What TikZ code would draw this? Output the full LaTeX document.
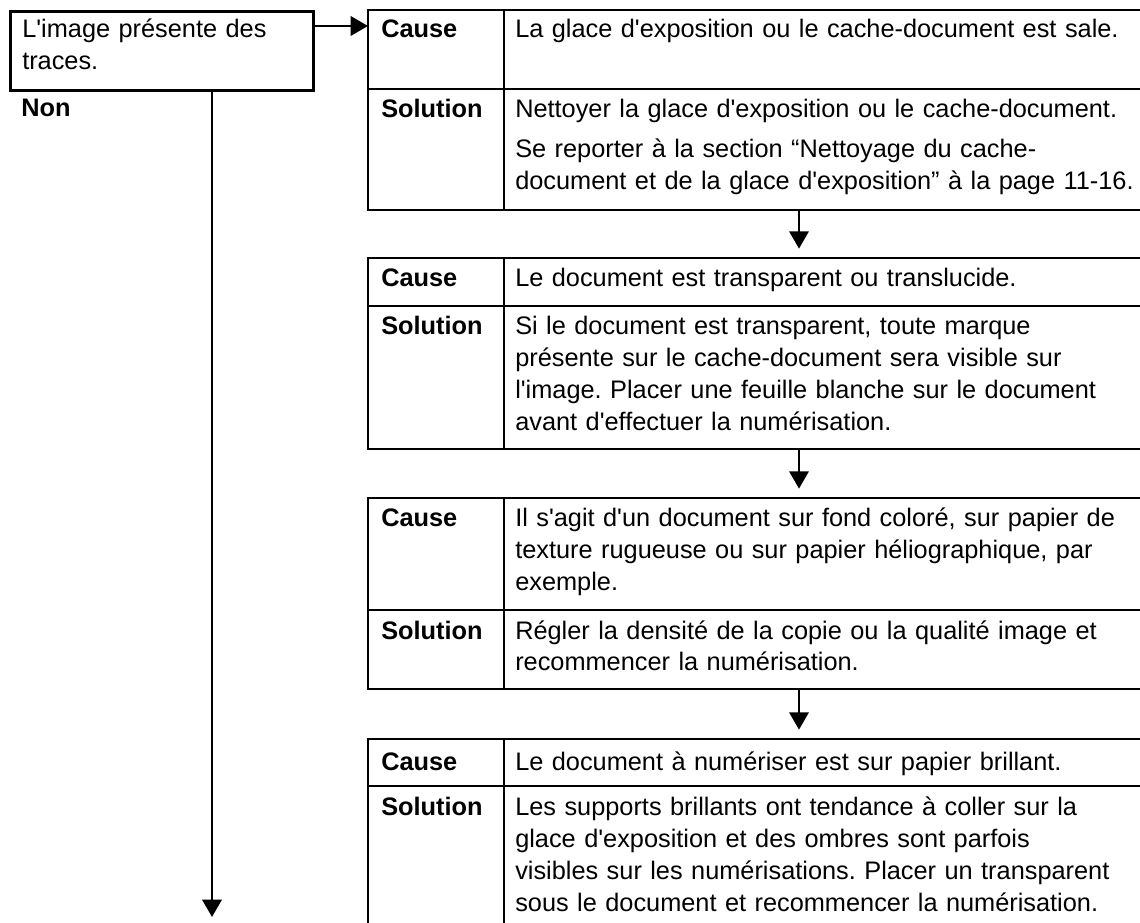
\documentclass[tikz,border=0pt]{standalone}
\usepackage{fontspec}
\setmainfont{Liberation Sans}[Ligatures=TeXOff]
\usetikzlibrary{arrows.meta}
\frenchspacing
\begin{document}
\begin{tikzpicture}[x=0.75pt,y=-0.75pt,
  font=\fontsize{19pt}{24pt}\selectfont\frenchspacing,
  frame/.style={line width=1.9pt},
  arr/.style={line width=1.8pt,-{Triangle[length=13pt,width=14.5pt]}},
  cell/.style={anchor=base west,inner sep=0pt,align=left,text width=540pt},
  lab/.style={anchor=base west,inner sep=0pt,font=\fontsize{19pt}{24pt}\selectfont\bfseries},
]
\useasboundingbox (0,0) rectangle (1140,923);

% question box
\node[draw,frame,anchor=north west,inner xsep=9pt,inner ysep=5.625pt,
      minimum width=227.25pt,text width=209.25pt,align=left,
      text height=14.25pt,text depth=33.75pt] (q) at (9,10)
      {L'image présente des\\traces.};
\node[lab] (non) at (21,117) {Non};

% table 1
\draw[frame] (1140,10) -- (368,10) -- (368,210) -- (1140,210);
\draw[frame] (368,89) -- (1140,89);
\draw[frame] (504,10) -- (504,210);
\node[lab] (c1) at (381,38) {Cause};
\node[cell] (ct1) at (515,38) {La glace d'exposition ou le cache-document est sale.};
\node[lab] (s1) at (381,118) {Solution};
\node[cell] (st1) at (515,118) {Nettoyer la glace d'exposition ou le cache-document.\\[6pt]
Se reporter à la section “Nettoyage du cache-\\document et de la glace d'exposition” à la page 11-16.};

% table 2
\draw[frame] (1140,258) -- (368,258) -- (368,449) -- (1140,449);
\draw[frame] (368,306) -- (1140,306);
\draw[frame] (504,258) -- (504,449);
\node[lab] (c2) at (381,287) {Cause};
\node[cell] (ct2) at (515,287) {Le document est transparent ou translucide.};
\node[lab] (s2) at (381,335) {Solution};
\node[cell] (st2) at (515,335) {Si le document est transparent, toute marque\\
présente sur le cache-document sera visible sur\\
l'image. Placer une feuille blanche sur le document\\
avant d'effectuer la numérisation.};

% table 3
\draw[frame] (1140,498) -- (368,498) -- (368,689) -- (1140,689);
\draw[frame] (368,610) -- (1140,610);
\draw[frame] (504,498) -- (504,689);
\node[lab] (c3) at (381,527) {Cause};
\node[cell] (ct3) at (515,527) {Il s'agit d'un document sur fond coloré, sur papier de\\
texture rugueuse ou sur papier héliographique, par\\
exemple.};
\node[lab] (s3) at (381,639) {Solution};
\node[cell] (st3) at (515,639) {Régler la densité de la copie ou la qualité image et\\
recommencer la numérisation.};

% table 4
\draw[frame] (1140,739) -- (368,739) -- (368,930);
\draw[frame] (368,786) -- (1140,786);
\draw[frame] (504,739) -- (504,930);
\node[lab] (c4) at (381,770) {Cause};
\node[cell] (ct4) at (515,770) {Le document à numériser est sur papier brillant.};
\node[lab] (s4) at (381,815) {Solution};
\node[cell] (st4) at (515,815) {Les supports brillants ont tendance à coller sur la\\
glace d'exposition et des ombres sont parfois\\
visibles sur les numérisations. Placer un transparent\\
sous le document et recommencer la numérisation.};

% connectors
\coordinate (t1in) at (368,26);
\coordinate (qend) at (212,917);
\coordinate (b1) at (799,210);
\coordinate (t2) at (799,258);
\coordinate (b2) at (799,449);
\coordinate (t3) at (799,498);
\coordinate (b3) at (799,689);
\coordinate (t4) at (799,739);
\draw[arr] (q.east |- t1in) -- (t1in);
\draw[arr] (q.south -| qend) -- (qend);
\draw[arr,shorten >=7pt] (b1) -- (t2);
\draw[arr,shorten >=7pt] (b2) -- (t3);
\draw[arr,shorten >=7pt] (b3) -- (t4);
\end{tikzpicture}
\end{document}
